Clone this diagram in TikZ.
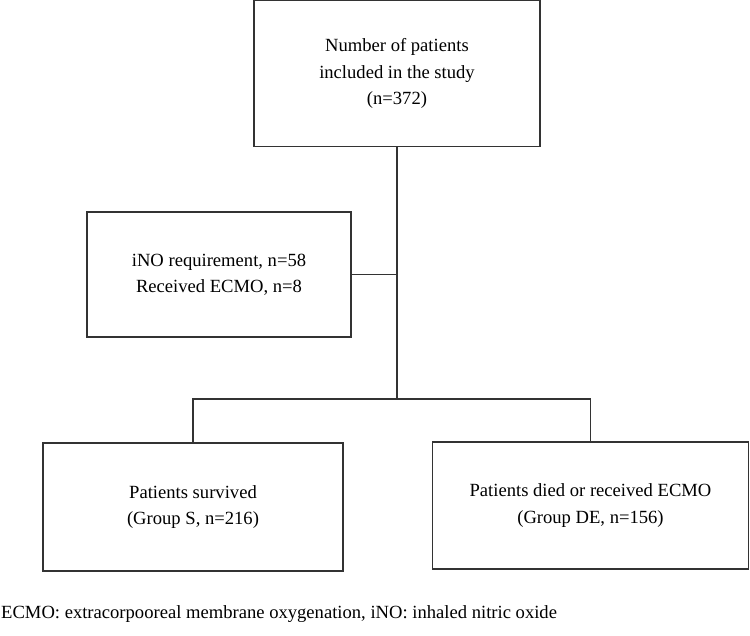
\documentclass[tikz,border=0pt]{standalone}
\usepackage{fontspec}
\setmainfont{Liberation Serif}
\begin{document}
\begin{tikzpicture}[x=1pt,y=-1pt,
  box/.style={draw=black!80,line width=1.6pt,inner sep=0pt,align=center,
    font=\fontsize{18.6}{26.5}\selectfont},
  conn/.style={draw=black!80,line width=1.6pt}]
\useasboundingbox (0,0) rectangle (750,635);
% boxes as rectangles with named nodes
\node[box,minimum width=286pt,minimum height=146pt] (top) at (397,73.5)
  {Number of patients\\included in the study\\(n=372)};
\node[box,minimum width=264pt,minimum height=125pt] (mid) at (219,274.5)
  {iNO requirement, n=58\\Received ECMO, n=8};
\node[box,minimum width=300pt,minimum height=128pt] (left) at (193,507)
  {Patients survived\\(Group S, n=216)};
\node[box,minimum width=316pt,minimum height=127pt] (right) at (590.5,505.5)
  {Patients died or received ECMO\\(Group DE, n=156)};
\coordinate (split) at (397,399);
\coordinate (midjoin) at (397,274.5);
\draw[conn] (top.south) -- (split);
\draw[conn] (mid.east) -- (midjoin);
\draw[conn] (left.north) |- (split) -| (right.north);
\node[anchor=west,inner sep=0pt,font=\fontsize{18.6}{22}\selectfont] (note) at (1,614)
  {ECMO: extracorpooreal membrane oxygenation, iNO: inhaled nitric oxide};
\end{tikzpicture}
\end{document}
